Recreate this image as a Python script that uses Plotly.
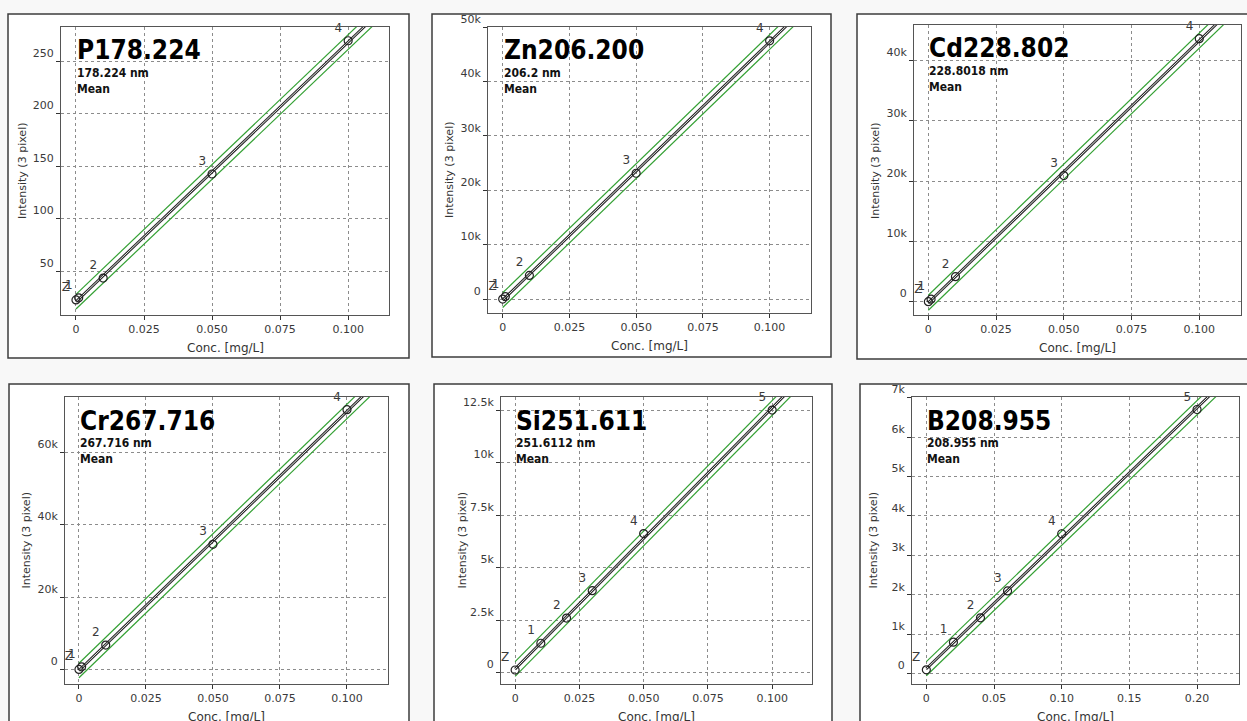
import numpy as np
import plotly.graph_objects as go

W, H = 1247, 721

# ---------------- data ----------------
p_conc = [0, 0.001, 0.01, 0.05, 0.1]
p_int = [22.5, 24.5, 43.3, 142.4, 269.3]
p_labels = ["Z", "1", "2", "3", "4"]

zn_conc = [0, 0.001, 0.01, 0.05, 0.1]
zn_int = [0, 450, 4350, 23140, 47500]
zn_labels = ["Z", "1", "2", "3", "4"]

cd_conc = [0, 0.001, 0.01, 0.05, 0.1]
cd_int = [0, 420, 4150, 20940, 43660]
cd_labels = ["Z", "1", "2", "3", "4"]

cr_conc = [0, 0.001, 0.01, 0.05, 0.1]
cr_int = [0, 700, 6730, 34560, 71800]
cr_labels = ["Z", "1", "2", "3", "4"]

si_conc = [0, 0.01, 0.02, 0.03, 0.05, 0.1]
si_int = [127, 1400, 2600, 3900, 6620, 12500]
si_labels = ["Z", "1", "2", "3", "4", "5"]

b_conc = [0, 0.02, 0.04, 0.06, 0.1, 0.2]
b_int = [100, 800, 1417, 2100, 3550, 6700]
b_labels = ["Z", "1", "2", "3", "4", "5"]

titles = ["P178.224", "Zn206.200", "Cd228.802", "Cr267.716", "Si251.611", "B208.955"]
subtitles = ["178.224 nm", "206.2 nm", "228.8018 nm", "267.716 nm", "251.6112 nm", "208.955 nm"]

x_ticks_a = [0, 0.025, 0.05, 0.075, 0.1]
x_ticktext_a = ["0", "0.025", "0.050", "0.075", "0.100"]
x_ticks_b = [0, 0.05, 0.10, 0.15, 0.20]
x_ticktext_b = ["0", "0.05", "0.10", "0.15", "0.20"]

p_yticks = [50, 100, 150, 200, 250]
p_ytext = ["50", "100", "150", "200", "250"]
zn_yticks = [0, 10000, 20000, 30000, 40000, 50000]
zn_ytext = ["0", "10k", "20k", "30k", "40k", "50k"]
cd_yticks = [0, 10000, 20000, 30000, 40000]
cd_ytext = ["0", "10k", "20k", "30k", "40k"]
cr_yticks = [0, 20000, 40000, 60000]
cr_ytext = ["0", "20k", "40k", "60k"]
si_yticks = [0, 2500, 5000, 7500, 10000, 12500]
si_ytext = ["0", "2.5k", "5k", "7.5k", "10k", "12.5k"]
b_yticks = [0, 1000, 2000, 3000, 4000, 5000, 6000, 7000]
b_ytext = ["0", "1k", "2k", "3k", "4k", "5k", "6k", "7k"]

# half-width of the confidence band (intensity units)
band = [7.0, 1350, 1250, 2000, 350, 180]

# ---------------- layout geometry (pixels) ----------------
panels = [
    dict(conc=p_conc, inten=p_int, lab=p_labels, box=(61, 389, 27, 315),
         xr=(-0.0055, 0.115), yr=(8.1, 282.4), xt=x_ticks_a, xtt=x_ticktext_a,
         yt=p_yticks, ytt=p_ytext, outer=(8, 409, 14, 358)),
    dict(conc=zn_conc, inten=zn_int, lab=zn_labels, box=(488, 811, 27, 313),
         xr=(-0.0055, 0.1155), yr=(-2570, 50050), xt=x_ticks_a, xtt=x_ticktext_a,
         yt=zn_yticks, ytt=zn_ytext, outer=(432, 831, 14, 357)),
    dict(conc=cd_conc, inten=cd_int, lab=cd_labels, box=(914, 1241, 25, 315),
         xr=(-0.0053, 0.1154), yr=(-2210, 45930), xt=x_ticks_a, xtt=x_ticktext_a,
         yt=cd_yticks, ytt=cd_ytext, outer=(857, 1260, 14, 359)),
    dict(conc=cr_conc, inten=cr_int, lab=cr_labels, box=(65, 388, 397, 684),
         xr=(-0.0052, 0.1153), yr=(-4040, 75300), xt=x_ticks_a, xtt=x_ticktext_a,
         yt=cr_yticks, ytt=cr_ytext, outer=(9, 409, 384, 740)),
    dict(conc=si_conc, inten=si_int, lab=si_labels, box=(501, 812, 397, 684),
         xr=(-0.0055, 0.1155), yr=(-540, 13120), xt=x_ticks_a, xtt=x_ticktext_a,
         yt=si_yticks, ytt=si_ytext, outer=(434, 832, 384, 740)),
    dict(conc=b_conc, inten=b_int, lab=b_labels, box=(912, 1239, 397, 684),
         xr=(-0.0106, 0.231), yr=(-260, 7017), xt=x_ticks_b, xtt=x_ticktext_b,
         yt=b_yticks, ytt=b_ytext, outer=(860, 1260, 384, 740)),
]

GREEN = "#34a034"
FONT = "DejaVu Sans"
COND = "DejaVu Sans Condensed, DejaVu Sans"


def px_x(v):
    return v / W


def px_y(v):
    return 1 - v / H


fig = go.Figure()
shapes = []
annotations = []

for i, p in enumerate(panels):
    n = i + 1
    xa = "x" if n == 1 else f"x{n}"
    ya = "y" if n == 1 else f"y{n}"
    x0, x1, y0, y1 = p["box"]

    # outer white box
    ox0, ox1, oy0, oy1 = p["outer"]
    shapes.append(dict(type="rect", xref="paper", yref="paper",
                       x0=px_x(ox0), x1=px_x(ox1), y0=px_y(oy1), y1=px_y(oy0),
                       line=dict(color="#3c3c3c", width=1.5), fillcolor="white",
                       layer="below"))

    conc = np.array(p["conc"], dtype=float)
    inten = np.array(p["inten"], dtype=float)
    slope, icpt = np.polyfit(conc, inten, 1)
    xs = np.array([0.0, p["xr"][1]])
    ys = slope * xs + icpt

    # confidence band (green)
    for sgn in (1, -1):
        fig.add_trace(go.Scatter(x=xs, y=ys + sgn * band[i], mode="lines",
                                 line=dict(color=GREEN, width=1.2),
                                 xaxis=xa, yaxis=ya, showlegend=False,
                                 hoverinfo="skip"))
    # calibration line (double black)
    fig.add_trace(go.Scatter(x=xs, y=ys, mode="lines",
                             line=dict(color="#2a2a2a", width=2.8),
                             xaxis=xa, yaxis=ya, showlegend=False, hoverinfo="skip"))
    fig.add_trace(go.Scatter(x=xs, y=ys, mode="lines",
                             line=dict(color="#e0e0e0", width=1),
                             xaxis=xa, yaxis=ya, showlegend=False, hoverinfo="skip"))
    # standards
    fig.add_trace(go.Scatter(x=conc, y=inten, mode="markers+text",
                             text=p["lab"], textposition="top left",
                             textfont=dict(family=FONT, size=12, color="#3a3a3a"),
                             marker=dict(symbol="circle-open", size=8,
                                         color="#222", line=dict(width=1.2)),
                             xaxis=xa, yaxis=ya, showlegend=False,
                             cliponaxis=False))

    axis_common = dict(showgrid=True, gridcolor="#8c8c8c", griddash="3px,3px",
                       gridwidth=1, zeroline=False, showline=True, mirror=True,
                       linecolor="#555", linewidth=1, ticks="outside", ticklen=4,
                       tickcolor="#333", tickfont=dict(family=FONT, size=11, color="#3a3a3a"),
                       tickmode="array", fixedrange=True, automargin=False)
    fig.layout[f"xaxis{'' if n == 1 else n}"] = dict(
        axis_common, domain=[px_x(x0), px_x(x1)], range=list(p["xr"]),
        tickvals=p["xt"], ticktext=p["xtt"], anchor=ya)
    fig.layout[f"yaxis{'' if n == 1 else n}"] = dict(
        axis_common, domain=[px_y(y1), px_y(y0)], range=list(p["yr"]),
        tickvals=p["yt"], ticktext=p["ytt"], anchor=xa,
        ticklabelposition="outside top", ticklabelstandoff=4)

    # pixel of x=0
    zero_px = x0 + (0 - p["xr"][0]) / (p["xr"][1] - p["xr"][0]) * (x1 - x0)

    annotations.append(dict(xref="paper", yref="paper", x=px_x(zero_px - 1),
                            y=px_y(y0 + 23.5), xanchor="left", yanchor="middle",
                            text=f"<b>{titles[i]}</b>", showarrow=False,
                            font=dict(family=COND, size=26, color="black")))
    annotations.append(dict(xref="paper", yref="paper", x=px_x(zero_px - 1),
                            y=px_y(y0 + 46.5), xanchor="left", yanchor="middle",
                            text=f"<b>{subtitles[i]}</b>", showarrow=False,
                            font=dict(family=COND, size=12, color="#111")))
    annotations.append(dict(xref="paper", yref="paper", x=px_x(zero_px - 1),
                            y=px_y(y0 + 62), xanchor="left", yanchor="middle",
                            text="<b>Mean</b>", showarrow=False,
                            font=dict(family=COND, size=12, color="#111")))
    # axis titles
    annotations.append(dict(xref="paper", yref="paper", x=px_x((x0 + x1) / 2),
                            y=px_y(y1 + 33), xanchor="center", yanchor="middle",
                            text="Conc. [mg/L]", showarrow=False,
                            font=dict(family=FONT, size=12, color="#333")))
    annotations.append(dict(xref="paper", yref="paper", x=px_x(x0 - 39),
                            y=px_y((y0 + y1) / 2), xanchor="center", yanchor="middle",
                            text="Intensity (3 pixel)", textangle=-90, showarrow=False,
                            font=dict(family=FONT, size=11, color="#333")))

fig.update_layout(width=W, height=H, margin=dict(l=0, r=0, t=0, b=0, autoexpand=False),
                  paper_bgcolor="#f8f8f8", plot_bgcolor="white",
                  shapes=shapes, annotations=annotations, showlegend=False)

fig.write_html("out.html", config={"displayModeBar": False},
               post_script="document.body.style.margin='0';document.body.style.overflow='hidden';")
